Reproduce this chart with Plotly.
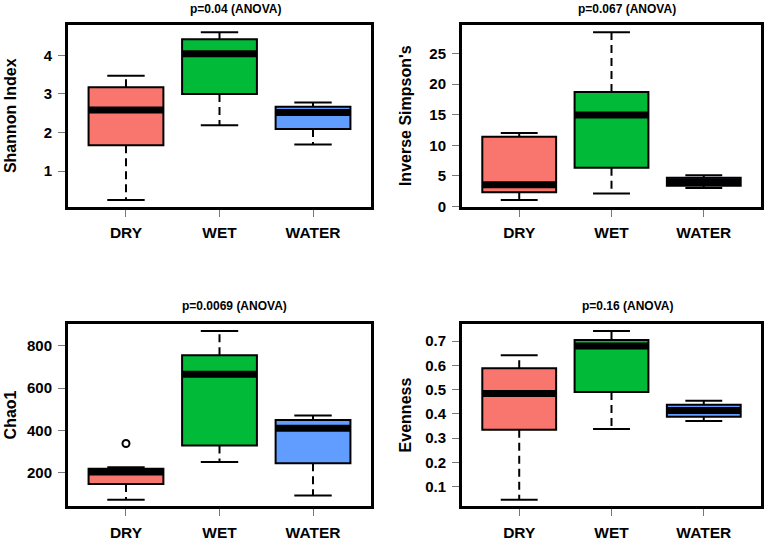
import plotly.graph_objects as go

groups = ["DRY", "WET", "WATER"]
colors = ["#F8766D", "#00BA38", "#619CFF"]

# Shannon Index
shannon_low = [0.25, 2.19, 1.69]
shannon_q1 = [1.67, 3.00, 2.09]
shannon_med = [2.58, 4.04, 2.52]
shannon_q3 = [3.17, 4.42, 2.67]
shannon_high = [3.47, 4.60, 2.78]
shannon_out = [[], [], []]

# Inverse Simpson's
invs_low = [1.05, 2.12, 3.00]
invs_q1 = [2.33, 6.33, 3.40]
invs_med = [3.56, 14.95, 4.05]
invs_q3 = [11.4, 18.7, 4.70]
invs_high = [12.0, 28.5, 5.10]
invs_out = [[], [], []]

# Chao1
chao_low = [72, 251, 92]
chao_q1 = [146, 328, 245]
chao_med = [203, 666, 410]
chao_q3 = [219, 755, 449]
chao_high = [226, 870, 471]
chao_out = [[338], [], []]

# Evenness
even_low = [0.046, 0.338, 0.371]
even_q1 = [0.335, 0.490, 0.388]
even_med = [0.484, 0.680, 0.414]
even_q3 = [0.588, 0.705, 0.438]
even_high = [0.642, 0.742, 0.454]
even_out = [[], [], []]

titles = ["p=0.04 (ANOVA)", "p=0.067 (ANOVA)", "p=0.0069 (ANOVA)", "p=0.16 (ANOVA)"]
ylabels = ["Shannon Index", "Inverse Simpson's", "Chao1", "Evenness"]
yticks = [[1, 2, 3, 4], [0, 5, 10, 15, 20, 25], [200, 400, 600, 800],
          [0.1, 0.2, 0.3, 0.4, 0.5, 0.6, 0.7]]
yticktext = [["1", "2", "3", "4"], ["0", "5", "10", "15", "20", "25"],
             ["200", "400", "600", "800"],
             ["0.1", "0.2", "0.3", "0.4", "0.5", "0.6", "0.7"]]

panels = [
    (shannon_low, shannon_q1, shannon_med, shannon_q3, shannon_high, shannon_out),
    (invs_low, invs_q1, invs_med, invs_q3, invs_high, invs_out),
    (chao_low, chao_q1, chao_med, chao_q3, chao_high, chao_out),
    (even_low, even_q1, even_med, even_q3, even_high, even_out),
]

W, H = 767, 541
# plot areas in pixels (left, right, top, bottom)
areas = [(68, 371, 26, 211), (462, 761, 26, 211),
         (68, 371, 331, 517), (462, 761, 331, 517)]
title_pos = [(235, 9), (627, 9), (234, 312), (627, 312)]
ylab_x = [10, 405, 10, 405]

FONT = "Liberation Sans, Arial, Helvetica, sans-serif"
positions = [1, 2, 3]
bw = 0.8
cw = 0.4

fig = go.Figure()
layout = dict(width=W, height=H, margin=dict(l=0, r=0, t=0, b=0),
              paper_bgcolor="white", plot_bgcolor="white", showlegend=False,
              boxmode="overlay", annotations=[])

for i, (low, q1, med, q3, high, outs) in enumerate(panels):
    n = i + 1
    xa = "x" if n == 1 else f"x{n}"
    ya = "y" if n == 1 else f"y{n}"
    for j, g in enumerate(groups):
        p = positions[j]
        fig.add_trace(go.Box(
            x=[p], q1=[q1[j]], median=[med[j]], q3=[q3[j]],
            lowerfence=[q1[j]], upperfence=[q3[j]], width=bw,
            fillcolor=colors[j], line=dict(color="black", width=2),
            xaxis=xa, yaxis=ya, hoverinfo="skip", name=g))
        # dashed whiskers
        fig.add_trace(go.Scatter(
            x=[p, p, None, p, p], y=[q3[j], high[j], None, q1[j], low[j]],
            mode="lines", line=dict(color="black", width=2, dash="8px,5px"),
            xaxis=xa, yaxis=ya, hoverinfo="skip"))
        # caps
        fig.add_trace(go.Scatter(
            x=[p - cw / 2, p + cw / 2, None, p - cw / 2, p + cw / 2],
            y=[high[j], high[j], None, low[j], low[j]],
            mode="lines", line=dict(color="black", width=2),
            xaxis=xa, yaxis=ya, hoverinfo="skip"))
        # thick median
        fig.add_trace(go.Scatter(
            x=[p - bw / 2, p + bw / 2], y=[med[j], med[j]],
            mode="lines", line=dict(color="black", width=7),
            xaxis=xa, yaxis=ya, hoverinfo="skip"))
        if outs[j]:
            fig.add_trace(go.Scatter(
                x=[p] * len(outs[j]), y=outs[j], mode="markers",
                marker=dict(symbol="circle-open", size=7, color="black",
                            line=dict(width=2)),
                xaxis=xa, yaxis=ya, hoverinfo="skip"))

    allv = low + high + sum(outs, [])
    vmin, vmax = min(allv), max(allv)
    ext = (vmax - vmin) * 0.04
    L, R, T, B = areas[i]
    xkey = "xaxis" if n == 1 else f"xaxis{n}"
    ykey = "yaxis" if n == 1 else f"yaxis{n}"
    layout[xkey] = dict(
        domain=[L / W, R / W], anchor=ya, range=[0.5 - 0.12, 3.5 + 0.12],
        tickvals=positions, ticktext=groups, ticks="outside", ticklen=7,
        tickcolor="#777", tickwidth=1, showline=True, mirror=True,
        linecolor="black", linewidth=3, showgrid=False, zeroline=False,
        tickfont=dict(family=FONT, size=15.5, color="black", weight="bold"),
        ticklabelstandoff=3)
    layout[ykey] = dict(
        domain=[1 - B / H, 1 - T / H], anchor=xa, range=[vmin - ext, vmax + ext],
        tickvals=yticks[i], ticktext=yticktext[i], ticks="outside", ticklen=7,
        tickcolor="#777", tickwidth=1, showline=True, mirror=True,
        linecolor="black", linewidth=3, showgrid=False, zeroline=False,
        tickfont=dict(family=FONT, size=15, color="black", weight="bold"),
        ticklabelstandoff=3)
    tx, ty = title_pos[i]
    layout["annotations"].append(dict(
        text=titles[i], x=tx / W, y=1 - ty / H, xref="paper", yref="paper",
        showarrow=False, xanchor="center", yanchor="middle",
        font=dict(family=FONT, size=12, color="black", weight="bold")))
    layout["annotations"].append(dict(
        text=ylabels[i], x=ylab_x[i] / W, y=1 - ((T + B) / 2) / H,
        xref="paper", yref="paper", showarrow=False, textangle=-90,
        xanchor="center", yanchor="middle",
        font=dict(family=FONT, size=16, color="black", weight="bold")))

fig.update_layout(**layout)
fig.write_html("out.html", config={"displayModeBar": False},
               post_script="document.body.style.margin='0';document.body.style.overflow='hidden';")
